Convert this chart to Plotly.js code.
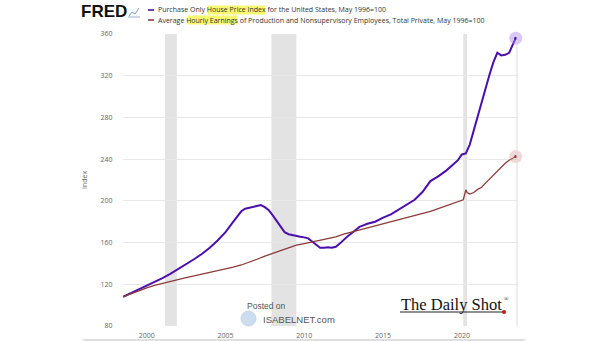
<!DOCTYPE html>
<html>
<head>
<meta charset="utf-8">
<script src="https://cdn.plot.ly/plotly-3.0.1.min.js"></script>
<style>html,body{margin:0;padding:0;background:#fff;}#chart{width:605px;height:341px;}</style>
</head>
<body>
<div id="chart"></div>
<script>
// ---- data ----
const hpiDates = ['1998-07-01','1999-01-01','1999-07-01','2000-01-01','2000-07-01','2001-01-01','2001-07-01','2002-01-01','2002-07-01','2003-01-01','2003-07-01','2004-01-01','2004-07-01','2005-01-01','2005-07-01','2006-01-01','2006-04-01','2006-07-01','2006-10-01','2007-01-01','2007-04-01','2007-07-01','2007-10-01','2008-01-01','2008-04-01','2008-07-01','2008-10-01','2009-01-01','2009-04-01','2009-07-01','2009-10-01','2010-01-01','2010-04-01','2010-07-01','2010-10-01','2011-01-01','2011-04-01','2011-07-01','2011-10-01','2012-01-01','2012-04-01','2012-07-01','2012-10-01','2013-01-01','2013-04-01','2013-07-01','2013-10-01','2014-01-01','2014-07-01','2015-01-01','2015-07-01','2016-01-01','2016-07-01','2017-01-01','2017-07-01','2018-01-01','2018-07-01','2019-01-01','2019-07-01','2019-10-01','2020-01-01','2020-04-01','2020-07-01','2020-10-01','2021-01-01','2021-04-01','2021-07-01','2021-10-01','2022-01-01','2022-04-01','2022-07-01','2022-10-01','2023-01-01','2023-03-01','2023-06-01'];
const hpiValues = [108,111.5,115,119,122.5,126,130,134.5,139,144,149,155,162,170,180,190,192.5,193.5,194,195,196,194,191,186,181,175,170,168,167,166.5,165.5,165,164,161,158,155,155,155.5,155,156,159,163,166,169,172,175,176.5,178,180,184,187,191.5,196,201,208.5,219,223.5,229,235.5,239,244.5,245.5,254,268,280,293,308,321,333,342,339.5,340,342,348,356];

const earnDates = ['1998-07-01','1999-01-01','1999-07-01','2000-01-01','2000-07-01','2001-01-01','2001-07-01','2002-01-01','2002-07-01','2003-01-01','2003-07-01','2004-01-01','2004-07-01','2005-01-01','2005-07-01','2006-01-01','2006-07-01','2007-01-01','2007-07-01','2008-01-01','2008-07-01','2009-01-01','2009-07-01','2010-01-01','2010-07-01','2011-01-01','2011-07-01','2012-01-01','2012-07-01','2013-01-01','2013-07-01','2014-01-01','2014-07-01','2015-01-01','2015-07-01','2016-01-01','2016-07-01','2017-01-01','2017-07-01','2018-01-01','2018-07-01','2019-01-01','2019-07-01','2020-01-01','2020-02-01','2020-04-01','2020-05-01','2020-07-01','2020-10-01','2021-01-01','2021-04-01','2021-07-01','2021-10-01','2022-01-01','2022-04-01','2022-07-01','2022-10-01','2023-01-01','2023-06-01'];
const earnValues = [108,111,114,116.5,119,121,122.5,124.5,126.5,128,130,131.5,133,134.5,136.5,138.5,141,144,147,149.5,152,155,157.5,159,160.5,162,163.5,165.5,168,170,172,174,175.5,178,180,182,184,186,188,190,192.5,195,197.5,200.5,201,210.5,208,206.5,208,211,213,217,221,225,229,233,236,239,242.5];

const recessions = [['2001-03-01','2001-11-30'],['2007-12-01','2009-06-30'],['2020-02-01','2020-04-30']];
const yTicks = [80,120,160,200,240,280,320,360];
const xTickVals = ['2000-01-01','2005-01-01','2010-01-01','2015-01-01','2020-01-01'];
const xTickText = ['2000','2005','2010','2015','2020'];
const seriesNames = ['Purchase Only House Price Index for the United States, May 1996=100',
  'Average Hourly Earnings of Production and Nonsupervisory Employees, Total Private, May 1996=100'];

// ---- layout helpers (pixel -> paper) ----
const L=123, R=517, T=34, B=326;
const px = v => (v-L)/(R-L);
const py = v => (B-v)/(B-T);

const purple = '#4b0fae', brown = '#8c3b3b';

const traces = [
  {x: hpiDates, y: hpiValues, type:'scatter', mode:'lines', line:{color:purple, width:2}, name: seriesNames[0], hoverinfo:'skip'},
  {x: earnDates, y: earnValues, type:'scatter', mode:'lines', line:{color:brown, width:1.3}, name: seriesNames[1], hoverinfo:'skip'},
  {x:[hpiDates[hpiDates.length-1]], y:[hpiValues[hpiValues.length-1]], type:'scatter', mode:'markers', marker:{size:13, color:'rgba(170,130,235,0.45)'}, cliponaxis:false, hoverinfo:'skip'},
  {x:[earnDates[earnDates.length-1]], y:[earnValues[earnValues.length-1]], type:'scatter', mode:'markers', marker:{size:13, color:'rgba(215,160,160,0.4)'}, cliponaxis:false, hoverinfo:'skip'},
  {x:[hpiDates[hpiDates.length-1], earnDates[earnDates.length-1]], y:[hpiValues[hpiValues.length-1], earnValues[earnValues.length-1]], type:'scatter', mode:'markers', marker:{size:3, color:[purple,brown]}, cliponaxis:false, hoverinfo:'skip'}
];

const shapes = [];
recessions.forEach(r => shapes.push({type:'rect', xref:'x', yref:'paper', x0:r[0], x1:r[1], y0:0, y1:1, fillcolor:'#e3e3e3', line:{width:0}, layer:'below'}));
// right border of plot
shapes.push({type:'line', xref:'paper', yref:'paper', x0:1, x1:1, y0:0, y1:1, line:{color:'#dddddd', width:1}});
// bottom page line
shapes.push({type:'line', xref:'paper', yref:'paper', x0:px(83), x1:px(525), y0:py(340), y1:py(340), line:{color:'#bdbdbd', width:1.2}});
// legend dashes
shapes.push({type:'line', xref:'paper', yref:'paper', x0:px(148), x1:px(154), y0:py(10), y1:py(10), line:{color:purple, width:1.6}});
shapes.push({type:'line', xref:'paper', yref:'paper', x0:px(148), x1:px(154), y0:py(20), y1:py(20), line:{color:brown, width:1.6}});
// highlights
shapes.push({type:'rect', xref:'paper', yref:'paper', x0:px(207.5), x1:px(265), y0:py(14.5), y1:py(5.5), fillcolor:'#f9f871', line:{width:0}});
shapes.push({type:'rect', xref:'paper', yref:'paper', x0:px(187.5), x1:px(237.5), y0:py(24.5), y1:py(15.5), fillcolor:'#f9f871', line:{width:0}});
// FRED icon (tiny chart)
shapes.push({type:'path', xref:'paper', yref:'paper', path:'M'+px(129)+','+py(16)+' L'+px(132)+','+py(12)+' L'+px(135)+','+py(14)+' L'+px(139)+','+py(8), line:{color:'#7d9bc1', width:1}});
shapes.push({type:'line', xref:'paper', yref:'paper', x0:px(128), x1:px(140), y0:py(17), y1:py(17), line:{color:'#9aaecb', width:1}});
// Daily Shot underline and dot
shapes.push({type:'line', xref:'paper', yref:'paper', x0:px(400), x1:px(503), y0:py(312), y1:py(312), line:{color:'#222', width:1.2}});
shapes.push({type:'circle', xref:'paper', yref:'paper', x0:px(502), x1:px(506), y0:py(314), y1:py(310), fillcolor:'#c0141b', line:{width:0}});
// ISABELNET icon
shapes.push({type:'circle', xref:'paper', yref:'paper', x0:px(241), x1:px(256), y0:py(326), y1:py(311), fillcolor:'rgba(140,180,220,0.45)', line:{color:'#c9d5e3', width:1}});

const annotations = [
  {xref:'paper', yref:'paper', x:px(79), y:py(11), xanchor:'left', yanchor:'middle', text:'<b>FRED</b>', showarrow:false, font:{family:'Liberation Sans, Arial', size:17, color:'#111'}},
  {xref:'paper', yref:'paper', x:px(156), y:py(10), xanchor:'left', yanchor:'middle', text:seriesNames[0], showarrow:false, font:{family:'Open Sans', size:7, color:'#333'}},
  {xref:'paper', yref:'paper', x:px(156), y:py(20), xanchor:'left', yanchor:'middle', text:seriesNames[1], showarrow:false, font:{family:'Open Sans', size:7, color:'#333'}},
  {xref:'paper', yref:'paper', x:px(399), y:py(304), xanchor:'left', yanchor:'middle', text:'The Daily Shot', showarrow:false, font:{family:'Liberation Serif, Times New Roman', size:16.5, color:'#111'}},
  {xref:'paper', yref:'paper', x:px(502), y:py(299), xanchor:'left', yanchor:'middle', text:'®', showarrow:false, font:{family:'Liberation Serif', size:6, color:'#111'}},
  {xref:'paper', yref:'paper', x:px(245), y:py(306), xanchor:'left', yanchor:'middle', text:'Posted on', showarrow:false, font:{family:'Liberation Sans, Arial', size:8.5, color:'#555'}},
  {xref:'paper', yref:'paper', x:px(261), y:py(319), xanchor:'left', yanchor:'middle', text:'ISABELNET.com', showarrow:false, font:{family:'Liberation Sans, Arial', size:9.5, color:'#555'}}
];

const layout = {
  width:605, height:341,
  margin:{l:L, r:605-R, t:T, b:341-B},
  paper_bgcolor:'#fff', plot_bgcolor:'#fff',
  showlegend:false,
  xaxis:{type:'date', range:['1998-07-01','2023-07-01'], tickvals:xTickVals, ticktext:xTickText, showgrid:false, zeroline:false, showline:false, ticks:'outside', ticklen:3, tickcolor:'rgba(0,0,0,0)', tickfont:{family:'Open Sans', size:7, color:'#666'}},
  yaxis:{range:[80,360], tickvals:yTicks, showgrid:true, gridcolor:'#e8e8e8', gridwidth:1, zeroline:false, showline:false, ticks:'outside', ticklen:8, tickcolor:'rgba(0,0,0,0)', tickfont:{family:'Open Sans', size:7, color:'#666'}, title:{text:'Index', font:{family:'Open Sans', size:7, color:'#666'}, standoff:12}},
  shapes:shapes,
  annotations:annotations
};

Plotly.newPlot('chart', traces, layout, {displayModeBar:false, staticPlot:true});
</script>
</body>
</html>
